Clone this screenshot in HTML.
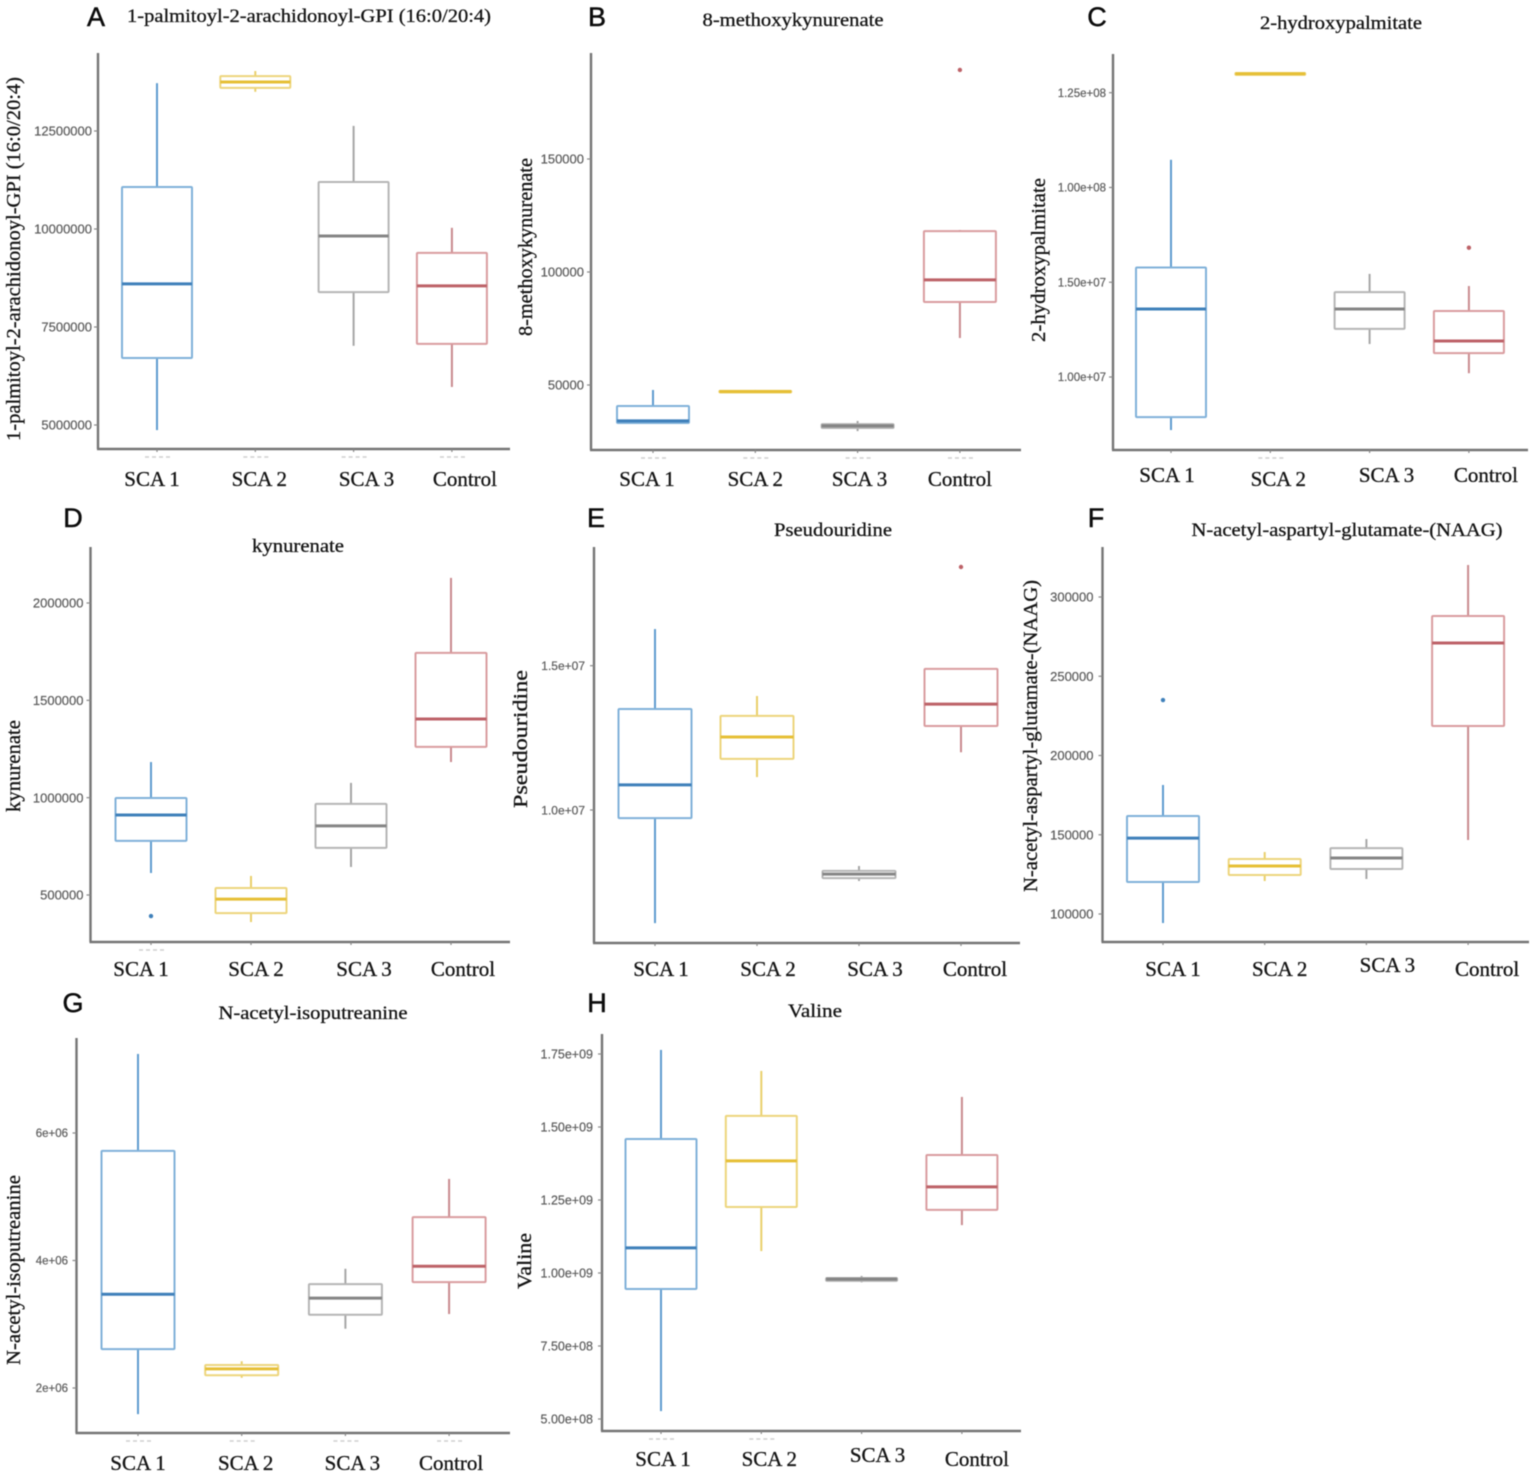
<!DOCTYPE html>
<html lang="en">
<head>
<meta charset="utf-8">
<title>Metabolite box plots by SCA group</title>
<style>
  html, body { margin: 0; padding: 0; background: #fff; }
  #figure { display: block; width: 1535px; height: 1478px; filter: blur(0.55px); }
  text { font-family: "Liberation Serif", serif; fill: #141414; stroke: #141414; stroke-width: 0.3px; }
  .tick-label { font-family: "Liberation Sans", sans-serif; fill: #5c5c5c; stroke: #6a6a6a; stroke-width: 0.25px; }
  .panel-letter { font-family: "Liberation Sans", sans-serif; fill: #0c0c0c; stroke: #0c0c0c; stroke-width: 0.5px; font-size: 27px; }
</style>
</head>
<body>
<svg id="figure" xmlns="http://www.w3.org/2000/svg" width="1535" height="1478" viewBox="0 0 1535 1478"></svg>
<script>
const categories = ["SCA 1", "SCA 2", "SCA 3", "Control"];

const aTicks = [12500000, 10000000, 7500000, 5000000];
const aTickLabels = ["12500000", "10000000", "7500000", "5000000"];
const aHigh = [13720000, 14030000, 12630000, 10030000];
const aQ3 = [11070000, 13900000, 11200000, 9390000];
const aMedian = [8600000, 13750000, 9820000, 8550000];
const aQ1 = [6710000, 13600000, 8390000, 7070000];
const aLow = [4870000, 13500000, 7020000, 5970000];
const aOutliers = [null, null, null, null];

const bTicks = [150000, 100000, 50000];
const bTickLabels = ["150000", "100000", "50000"];
const bHigh = [47800, 47800, 34100, 118600];
const bQ3 = [40700, 47400, 32700, 118100];
const bMedian = [34100, 47100, 31900, 96500];
const bQ1 = [33200, 46700, 31000, 86700];
const bLow = [33200, 46500, 29600, 70800];
const bOutliers = [null, null, null, 189400];

const cTicks = [125000000, 100000000, 75000000, 50000000];
const cTickLabels = ["1.25e+08", "1.00e+08", "1.50e+07", "1.00e+07"];
const cHigh = [107300000, 130300000, 77200000, 74000000];
const cQ3 = [78900000, 130200000, 72400000, 67400000];
const cMedian = [67950000, 130000000, 67950000, 59500000];
const cQ1 = [39400000, 129700000, 62700000, 56300000];
const cLow = [36000000, 129700000, 58700000, 51000000];
const cOutliers = [null, null, null, 84100000];

const dTicks = [2000000, 1500000, 1000000, 500000];
const dTickLabels = ["2000000", "1500000", "1000000", "500000"];
const dHigh = [1183000, 598000, 1076000, 2129000];
const dQ3 = [998000, 536000, 968000, 1744000];
const dMedian = [911000, 479000, 855000, 1404000];
const dQ1 = [778000, 407000, 742000, 1261000];
const dLow = [613000, 361000, 644000, 1183000];
const dOutliers = [392000, null, null, null];

const eTicks = [15000000, 10000000];
const eTickLabels = ["1.5e+07", "1.0e+07"];
const eHigh = [16270000, 13950000, 8060000, 14890000];
const eQ3 = [13500000, 13260000, 7890000, 14890000];
const eMedian = [10870000, 12530000, 7780000, 13670000];
const eQ1 = [9720000, 11770000, 7640000, 12910000];
const eLow = [6080000, 11140000, 7540000, 12000000];
const eOutliers = [null, null, null, 18420000];

const fTicks = [300000, 250000, 200000, 150000, 100000];
const fTickLabels = ["300000", "250000", "200000", "150000", "100000"];
const fHigh = [181400, 139100, 147300, 320200];
const fQ3 = [161800, 134700, 141600, 288000];
const fMedian = [147900, 130300, 135300, 271000];
const fQ1 = [120200, 124600, 128400, 218600];
const fLow = [94300, 120800, 122100, 146700];
const fOutliers = [235000, null, null, null];

const gTicks = [6000000, 4000000, 2000000];
const gTickLabels = ["6e+06", "4e+06", "2e+06"];
const gHigh = [7240000, 2420000, 3870000, 5280000];
const gQ3 = [5720000, 2360000, 3630000, 4680000];
const gMedian = [3470000, 2300000, 3410000, 3910000];
const gQ1 = [2610000, 2200000, 3150000, 3660000];
const gLow = [1590000, 2160000, 2930000, 3160000];
const gOutliers = [null, null, null, null];

const hTicks = [1750000000, 1500000000, 1250000000, 1000000000, 750000000, 500000000];
const hTickLabels = ["1.75e+09", "1.50e+09", "1.25e+09", "1.00e+09", "7.50e+08", "5.00e+08"];
const hHigh = [1764000000, 1692000000, 990000000, 1603000000];
const hQ3 = [1459000000, 1538000000, 983000000, 1404000000];
const hMedian = [1086000000, 1384000000, 979000000, 1295000000];
const hQ1 = [945000000, 1226000000, 973000000, 1216000000];
const hLow = [527000000, 1075000000, 968000000, 1164000000];
const hOutliers = [null, null, null, null];

const strokeColors = ["#80b1d9", "#edd57c", "#b5b5b5", "#d99c9f"];
const whiskerColors = ["#5e9ccf", "#e9cf6a", "#a6a6a6", "#c98a8e"];
const medianColors = ["#3f80ba", "#e6bf36", "#858585", "#bd6268"];

const panels = [
  { id: "a", letter: "A", letterX: 96, letterY: 17, title: "1-palmitoyl-2-arachidonoyl-GPI (16:0/20:4)", titleX: 309, titleY: 16, titleW: 364,
    yTitle: "1-palmitoyl-2-arachidonoyl-GPI (16:0/20:4)", yTitleX: 14, yTitleY: 259, yTitleW: 364,
    axisX: 98, axisTop: 53, axisBottom: 449, axisRight: 510, tickTopPx: 131, tickBottomPx: 425, bandStart: 157, bandStep: 98.3, boxW: 70, tickFont: 13, tickGap: 6,
    labelY: [479, 479, 479, 479], labelShift: [-5, 4, 13, 13], smudges: [0, 1, 2, 3],
    ticks: aTicks, tickLabels: aTickLabels, high: aHigh, q3: aQ3, median: aMedian, q1: aQ1, low: aLow, outliers: aOutliers },
  { id: "b", letter: "B", letterX: 597, letterY: 17, title: "8-methoxykynurenate", titleX: 793, titleY: 20, titleW: 181,
    yTitle: "8-methoxykynurenate", yTitleX: 526, yTitleY: 247, yTitleW: 178,
    axisX: 591, axisTop: 53, axisBottom: 450, axisRight: 1021, tickTopPx: 159, tickBottomPx: 385, bandStart: 653, bandStep: 102.3, boxW: 72, tickFont: 13, tickGap: 7,
    labelY: [479, 479, 479, 479], labelShift: [-6, 0, 2, 0], smudges: [0, 1, 2, 3],
    ticks: bTicks, tickLabels: bTickLabels, high: bHigh, q3: bQ3, median: bMedian, q1: bQ1, low: bLow, outliers: bOutliers },
  { id: "c", letter: "C", letterX: 1097, letterY: 17, title: "2-hydroxypalmitate", titleX: 1341, titleY: 23, titleW: 162,
    yTitle: "2-hydroxypalmitate", yTitleX: 1039, yTitleY: 260, yTitleW: 164,
    axisX: 1113, axisTop: 54, axisBottom: 450, axisRight: 1528, tickTopPx: 92.7, tickBottomPx: 377, bandStart: 1171, bandStep: 99.3, boxW: 70, tickFont: 11.5, tickGap: 7,
    labelY: [475, 479, 475, 475], labelShift: [-4, 8, 17, 17], smudges: [1],
    ticks: cTicks, tickLabels: cTickLabels, high: cHigh, q3: cQ3, median: cMedian, q1: cQ1, low: cLow, outliers: cOutliers },
  { id: "d", letter: "D", letterX: 73, letterY: 518, title: "kynurenate", titleX: 298, titleY: 546, titleW: 92,
    yTitle: "kynurenate", yTitleX: 14, yTitleY: 766, yTitleW: 92,
    axisX: 90.5, axisTop: 547, axisBottom: 942, axisRight: 510, tickTopPx: 603, tickBottomPx: 895, bandStart: 151, bandStep: 100, boxW: 71, tickFont: 13, tickGap: 7,
    labelY: [969, 969, 969, 969], labelShift: [-10, 5, 13, 12], smudges: [0],
    ticks: dTicks, tickLabels: dTickLabels, high: dHigh, q3: dQ3, median: dMedian, q1: dQ1, low: dLow, outliers: dOutliers },
  { id: "e", letter: "E", letterX: 596, letterY: 518, title: "Pseudouridine", titleX: 833, titleY: 530, titleW: 118,
    yTitle: "Pseudouridine", yTitleX: 521, yTitleY: 739, yTitleW: 138,
    axisX: 594, axisTop: 547, axisBottom: 943, axisRight: 1020, tickTopPx: 665.7, tickBottomPx: 810, bandStart: 655, bandStep: 102, boxW: 73, tickFont: 12, tickGap: 9,
    labelY: [969, 969, 969, 969], labelShift: [6, 11, 16, 14], smudges: [],
    ticks: eTicks, tickLabels: eTickLabels, high: eHigh, q3: eQ3, median: eMedian, q1: eQ1, low: eLow, outliers: eOutliers },
  { id: "f", letter: "F", letterX: 1096, letterY: 518, title: "N-acetyl-aspartyl-glutamate-(NAAG)", titleX: 1347, titleY: 530, titleW: 311,
    yTitle: "N-acetyl-aspartyl-glutamate-(NAAG)", yTitleX: 1031, yTitleY: 736, yTitleW: 312,
    axisX: 1102.5, axisTop: 547, axisBottom: 942, axisRight: 1529, tickTopPx: 597, tickBottomPx: 914, bandStart: 1163, bandStep: 101.7, boxW: 72, tickFont: 13, tickGap: 9,
    labelY: [969, 969, 965, 969], labelShift: [10, 15, 21, 19], smudges: [],
    ticks: fTicks, tickLabels: fTickLabels, high: fHigh, q3: fQ3, median: fMedian, q1: fQ1, low: fLow, outliers: fOutliers },
  { id: "g", letter: "G", letterX: 73, letterY: 1003, title: "N-acetyl-isoputreanine", titleX: 313, titleY: 1013, titleW: 189,
    yTitle: "N-acetyl-isoputreanine", yTitleX: 14, yTitleY: 1270, yTitleW: 190,
    axisX: 76.5, axisTop: 1038, axisBottom: 1433, axisRight: 510, tickTopPx: 1133, tickBottomPx: 1388, bandStart: 138, bandStep: 103.7, boxW: 73, tickFont: 11.5, tickGap: 8.5,
    labelY: [1463, 1463, 1463, 1463], labelShift: [0, 4, 7, 2], smudges: [0, 1, 2, 3],
    ticks: gTicks, tickLabels: gTickLabels, high: gHigh, q3: gQ3, median: gMedian, q1: gQ1, low: gLow, outliers: gOutliers },
  { id: "h", letter: "H", letterX: 597, letterY: 1003, title: "Valine", titleX: 815, titleY: 1011, titleW: 54,
    yTitle: "Valine", yTitleX: 525, yTitleY: 1261, yTitleW: 56,
    axisX: 602, axisTop: 1034, axisBottom: 1431, axisRight: 1021, tickTopPx: 1054, tickBottomPx: 1419, bandStart: 661, bandStep: 100.3, boxW: 71, tickFont: 12.5, tickGap: 9,
    labelY: [1459, 1459, 1455, 1459], labelShift: [2, 8, 16, 15], smudges: [0, 1],
    ticks: hTicks, tickLabels: hTickLabels, high: hHigh, q3: hQ3, median: hMedian, q1: hQ1, low: hLow, outliers: hOutliers }
];

const svgNS = "http://www.w3.org/2000/svg";
const figure = document.getElementById("figure");

function make(tag, attrs, parent) {
  const node = document.createElementNS(svgNS, tag);
  Object.keys(attrs).forEach(function (k) { node.setAttribute(k, attrs[k]); });
  parent.appendChild(node);
  return node;
}

function yScale(p) {
  const top = p.ticks[0];
  const bottom = p.ticks[p.ticks.length - 1];
  return function (v) {
    return p.tickTopPx + (top - v) / (top - bottom) * (p.tickBottomPx - p.tickTopPx);
  };
}

function xBand(p) {
  return function (i) { return p.bandStart + i * p.bandStep; };
}

panels.forEach(function (p) {
  const y = yScale(p);
  const x = xBand(p);

  const group = make("g", {}, figure);
  
  

  const letter = make("text", { x: p.letterX, y: p.letterY + 9, "text-anchor": "middle", "class": "panel-letter" }, group);
  letter.textContent = p.letter;
  
  

  const title = make("text", { x: p.titleX, y: p.titleY + 6, "text-anchor": "middle", "font-size": 19, textLength: p.titleW, lengthAdjust: "spacingAndGlyphs" }, group);
  title.textContent = p.title;
  
  

  const yTitle = make("text", { "text-anchor": "middle", "font-size": 20, textLength: p.yTitleW, lengthAdjust: "spacingAndGlyphs", transform: "translate(" + (p.yTitleX + 6) + "," + p.yTitleY + ") rotate(-90)" }, group);
  yTitle.textContent = p.yTitle;
  
  

  const yAxis = make("line", { x1: p.axisX, x2: p.axisX, y1: p.axisTop, y2: p.axisBottom, stroke: "#757575", "stroke-width": 2.4 }, group);
  
  

  const xAxis = make("line", { x1: p.axisX - 1, x2: p.axisRight, y1: p.axisBottom, y2: p.axisBottom, stroke: "#757575", "stroke-width": 2.4 }, group);
  
  

  p.ticks.forEach(function (t, i) {
    const tickMark = make("line", { x1: p.axisX - 4, x2: p.axisX, y1: y(t), y2: y(t), stroke: "#888", "stroke-width": 1.2 }, group);
    
    

    const tickText = make("text", { x: p.axisX - p.tickGap, y: y(t) + p.tickFont * 0.36, "text-anchor": "end", "font-size": p.tickFont, "class": "tick-label" }, group);
    tickText.textContent = p.tickLabels[i];
    
    
  });

  p.smudges.forEach(function (i) {
    const cx = x(i);
    const smudge = make("line", { x1: cx - 12, x2: cx + 16, y1: p.axisBottom + 8, y2: p.axisBottom + 8, stroke: "#cfcfcf", "stroke-width": 1.6, "stroke-dasharray": "4 3" }, group);
    
    
  });

  categories.forEach(function (cat, i) {
    const cx = x(i);
    const catKey = cat.toLowerCase().replace(" ", "");

    const xTick = make("line", { x1: cx, x2: cx, y1: p.axisBottom, y2: p.axisBottom + 3, stroke: "#888", "stroke-width": 1.2 }, group);
    
    

    const label = make("text", { x: cx + p.labelShift[i], y: p.labelY[i] + 7, "text-anchor": "middle", "font-size": 21 }, group);
    label.textContent = cat;
    
    

    const upper = make("line", { x1: cx, x2: cx, y1: y(p.high[i]), y2: y(p.q3[i]), stroke: whiskerColors[i], "stroke-width": 2 }, group);
    
    

    const lower = make("line", { x1: cx, x2: cx, y1: y(p.q1[i]), y2: y(p.low[i]), stroke: whiskerColors[i], "stroke-width": 2 }, group);
    
    

    const box = make("rect", { x: cx - p.boxW / 2, y: y(p.q3[i]), width: p.boxW, height: Math.max(0.5, y(p.q1[i]) - y(p.q3[i])), fill: "#fff", stroke: strokeColors[i], "stroke-width": 2, rx: 1 }, group);
    
    

    const median = make("line", { x1: cx - p.boxW / 2, x2: cx + p.boxW / 2, y1: y(p.median[i]), y2: y(p.median[i]), stroke: medianColors[i], "stroke-width": 3 }, group);
    
    

    if (p.outliers[i] !== null) {
      const outlier = make("circle", { cx: cx, cy: y(p.outliers[i]), r: 2.2, fill: medianColors[i] }, group);
      
      
    }
  });
});
</script>
</body>
</html>
